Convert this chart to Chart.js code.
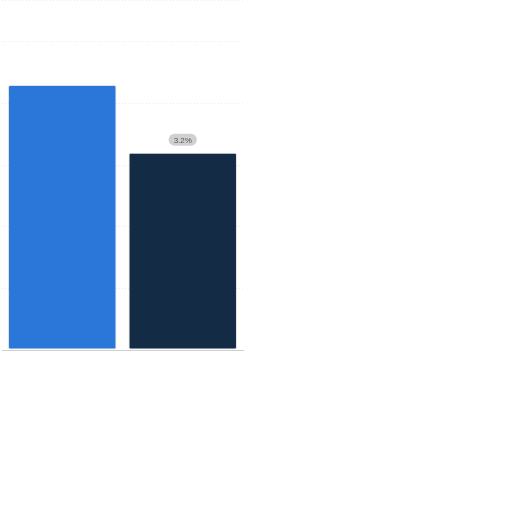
<!DOCTYPE html>
<html>
<head>
<meta charset="utf-8">
<script src="https://cdn.jsdelivr.net/npm/chart.js@4"></script>
<style>
  html, body { margin: 0; padding: 0; background: #fff; }
  #wrap { position: absolute; left: 0; top: 0; width: 245px; height: 358px; }
</style>
</head>
<body>
<div id="wrap"><canvas id="chart"></canvas></div>
<script>
// values
const categories = ['A', 'B'];
const values = [4.3, 3.2];
const valueLabels = ['4.3%', '3.2%'];
const barColors = ['#2a76d9', '#142b45'];

// draws the grey pill label above the second bar only
const pillLabels = {
    id: 'pillLabels',
    afterDatasetsDraw(chart) {
        const ctx = chart.ctx;
        const meta = chart.getDatasetMeta(0);
        const bar = meta.data[1];
        ctx.save();
        ctx.font = '8px "Liberation Sans", Arial, sans-serif';
        const text = valueLabels[1];
        const w = ctx.measureText(text).width + 10;
        const h = 12;
        const cx = bar.x;
        const cy = bar.y - 13;
        ctx.fillStyle = 'rgba(200,200,200,0.85)';
        ctx.beginPath();
        ctx.roundRect(cx - w / 2, cy - h / 2, w, h, 6);
        ctx.fill();
        ctx.fillStyle = '#555';
        ctx.textAlign = 'center';
        ctx.textBaseline = 'middle';
        ctx.fillText(text, cx, cy + 0.5);
        ctx.restore();
    }
};

new Chart(document.getElementById('chart'), {
    type: 'bar',
    data: {
        labels: categories,
        datasets: [{
            data: values,
            backgroundColor: barColors,
            borderColor: 'rgba(0,0,0,0.12)',
            borderWidth: 1,
            borderRadius: 2,
            borderSkipped: false,
            barPercentage: 1,
            categoryPercentage: 0.9
        }]
    },
    options: {
        responsive: true,
        maintainAspectRatio: false,
        animation: false,
        layout: { padding: { left: 2, right: 2, top: 0, bottom: 0 } },
        plugins: { legend: { display: false }, tooltip: { enabled: false } },
        scales: {
            x: {
                display: true,
                ticks: { display: false },
                grid: { display: false },
                border: { display: true, color: '#d0d0d0' }
            },
            y: {
                min: 0,
                max: 5.68,
                ticks: { display: false, stepSize: 1 },
                grid: { color: '#ececec', drawTicks: false, lineWidth: 1 },
                border: { display: false, dash: [1, 2] }
            }
        }
    },
    plugins: [pillLabels]
});
</script>
</body>
</html>
